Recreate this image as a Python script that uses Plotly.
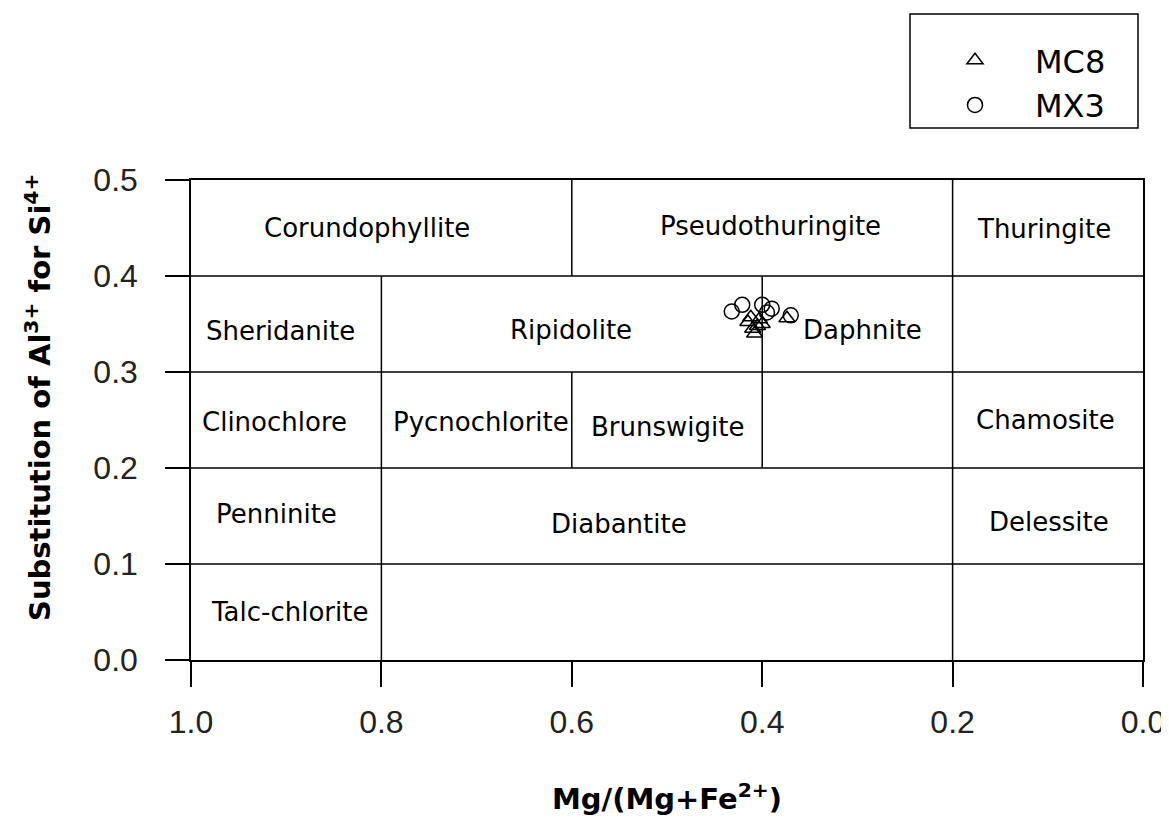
import plotly.graph_objects as go

# ---- data ----
mc8_x = [0.415, 0.410, 0.405, 0.412, 0.400, 0.408, 0.403, 0.374]
mc8_y = [0.352, 0.345, 0.348, 0.357, 0.350, 0.340, 0.355, 0.356]
mx3_x = [0.432, 0.421, 0.400, 0.395, 0.390, 0.370]
mx3_y = [0.363, 0.370, 0.370, 0.362, 0.366, 0.359]

field_names = ["Corundophyllite", "Pseudothuringite", "Thuringite",
               "Sheridanite", "Ripidolite", "Daphnite",
               "Clinochlore", "Pycnochlorite", "Brunswigite", "Chamosite",
               "Penninite", "Diabantite", "Delessite", "Talc-chlorite"]
field_x = [0.815, 0.391, 0.104,
           0.906, 0.601, 0.295,
           0.912, 0.695, 0.500, 0.102,
           0.910, 0.550, 0.099, 0.897]
field_y = [0.450, 0.452, 0.449,
           0.343, 0.344, 0.344,
           0.248, 0.248, 0.243, 0.250,
           0.152, 0.142, 0.144, 0.050]

h_bounds = [0.1, 0.2, 0.3, 0.4]
v_bound_x = [0.8, 0.2, 0.6, 0.6, 0.4]
v_bound_y0 = [0.0, 0.0, 0.4, 0.2, 0.2]
v_bound_y1 = [0.4, 0.5, 0.5, 0.3, 0.4]

x_ticks = [1.0, 0.8, 0.6, 0.4, 0.2, 0.0]
y_ticks = [0.0, 0.1, 0.2, 0.3, 0.4, 0.5]

FONT = "DejaVu Sans"
TICKFONT = "Liberation Sans"
PW, PH = 952.0, 480.0  # plot area size in px
L, T = 191.0, 180.0    # plot area top-left on the page

def px_x(p):
    return (p - L) / PW

def px_y(p):
    return 1 - (p - T) / PH

fig = go.Figure()
fig.add_trace(go.Scatter(
    x=mc8_x, y=mc8_y, mode="markers", name="MC8",
    marker=dict(symbol="triangle-up-open", size=14, color="black",
                line=dict(width=1.5, color="black"))))
fig.add_trace(go.Scatter(
    x=mx3_x, y=mx3_y, mode="markers", name="MX3",
    marker=dict(symbol="circle-open", size=15, color="black",
                line=dict(width=1.5, color="black"))))

shapes = []
for yv in h_bounds:
    shapes.append(dict(type="line", xref="x", yref="y", x0=1.0, x1=0.0, y0=yv, y1=yv,
                       line=dict(color="black", width=1.5), layer="below"))
for xv, y0, y1 in zip(v_bound_x, v_bound_y0, v_bound_y1):
    shapes.append(dict(type="line", xref="x", yref="y", x0=xv, x1=xv, y0=y0, y1=y1,
                       line=dict(color="black", width=1.5), layer="below"))
# legend frame
shapes.append(dict(type="rect", xref="paper", yref="paper",
                   x0=px_x(910), x1=px_x(1138), y0=px_y(128), y1=px_y(14),
                   line=dict(color="black", width=1.5), fillcolor="rgba(0,0,0,0)"))

annotations = []
for name, xv, yv in zip(field_names, field_x, field_y):
    annotations.append(dict(x=xv, y=yv, xref="x", yref="y", text=name, showarrow=False,
                            font=dict(family=FONT, size=26, color="black"),
                            xanchor="center", yanchor="middle"))
# y-axis title
annotations.append(dict(x=px_x(38), y=px_y(398), xref="paper", yref="paper",
                        text="<b>Substitution of Al<sup>3+</sup> for Si<sup>4+</sup></b>",
                        textangle=-90, showarrow=False,
                        font=dict(family=FONT, size=29, color="black"),
                        xanchor="center", yanchor="middle"))

# the page body adds an 8px offset; margins compensate for it
fig.update_layout(
    width=1161, height=813,
    margin=dict(l=183, r=26, t=172, b=161),
    paper_bgcolor="white", plot_bgcolor="white",
    shapes=shapes, annotations=annotations,
    showlegend=True,
    legend=dict(x=px_x(915), y=px_y(33), xanchor="left", yanchor="top",
                borderwidth=0, bgcolor="rgba(0,0,0,0)",
                font=dict(family=FONT, size=32, color="black"),
                itemwidth=110, tracegroupgap=0),
    xaxis=dict(range=[1.0, 0.0], tickvals=x_ticks, ticktext=[f"{v:.1f}" for v in x_ticks],
               showgrid=False, zeroline=False, showline=True, mirror=True,
               linecolor="black", linewidth=1.5, automargin=False,
               ticks="outside", ticklen=25, tickwidth=1.5, tickcolor="black",
               ticklabelstandoff=8,
               tickfont=dict(family=TICKFONT, size=32, color="#222"),
               title=dict(text="<b>Mg/(Mg+Fe<sup>2+</sup>)</b>", standoff=50,
                          font=dict(family=FONT, size=29, color="black"))),
    yaxis=dict(range=[0.0, 0.5], tickvals=y_ticks, ticktext=[f"{v:.1f}" for v in y_ticks],
               showgrid=False, zeroline=False, showline=True, mirror=True,
               linecolor="black", linewidth=1.5, automargin=False,
               ticks="outside", ticklen=24, tickwidth=1.5, tickcolor="black",
               ticklabelstandoff=21,
               tickfont=dict(family=TICKFONT, size=32, color="#222")),
)

fig.write_html("out.html")
